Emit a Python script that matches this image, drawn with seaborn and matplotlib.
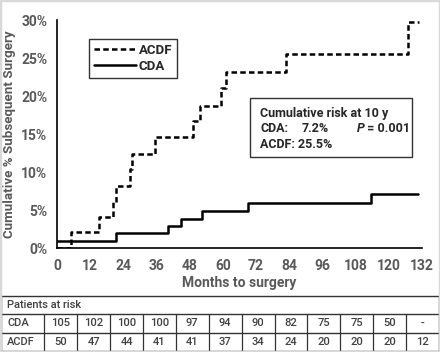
import matplotlib
matplotlib.use("Agg")
import matplotlib.pyplot as plt
import seaborn as sns
import pandas as pd
from matplotlib.patches import Rectangle
from matplotlib.lines import Line2D

# ---- data ----
acdf_months = [0, 5, 15.2, 20.3, 21.5, 26.5, 27.0, 35.6, 49.2, 51.6, 59.3, 61.1, 82.8, 127.0, 131.0]
acdf_pct = [0, 2.1, 4.1, 6.1, 8.2, 10.4, 12.4, 14.6, 16.7, 18.7, 21.0, 23.2, 25.5, 29.7, 29.7]
cda_months = [0, 21.5, 40.2, 45.0, 52.5, 69.0, 113.6, 130.5]
cda_pct = [1.0, 2.0, 2.9, 3.9, 4.9, 5.9, 7.2, 7.2]

x_ticks = [0, 12, 24, 36, 48, 60, 72, 84, 96, 108, 120, 132]
y_ticks = [0, 5, 10, 15, 20, 25, 30]
risk_cda = ["105", "102", "100", "100", "97", "94", "90", "82", "75", "75", "50", "-"]
risk_acdf = ["50", "47", "44", "41", "41", "37", "34", "24", "20", "20", "20", "12"]

sns.set_style("white")
plt.rcParams["font.family"] = ["Roboto", "DejaVu Sans"]

GRAY = "#595959"
FW = "bold"

fig = plt.figure(figsize=(4.4, 3.52), dpi=100)
ax = fig.add_axes([57 / 440, 1 - 248.3 / 352, (422 - 57) / 440, (248.3 - 20) / 352])

df_acdf = pd.DataFrame({"Months": acdf_months, "Pct": acdf_pct})
df_cda = pd.DataFrame({"Months": cda_months, "Pct": cda_pct})
sns.lineplot(data=df_acdf, x="Months", y="Pct", ax=ax, drawstyle="steps-post",
             color="black", lw=1.8, linestyle=(0, (2.2, 1.3)), estimator=None, sort=False)
sns.lineplot(data=df_cda, x="Months", y="Pct", ax=ax, drawstyle="steps-post",
             color="black", lw=1.8, estimator=None, sort=False)

ax.set_xlim(0, 132)
ax.set_ylim(0, 30)
ax.set_xticks(x_ticks)
ax.set_xticklabels([str(t) for t in x_ticks])
ax.set_yticks(y_ticks)
ax.set_yticklabels([f"{t}%" for t in y_ticks])
for s in ["top", "right"]:
    ax.spines[s].set_visible(False)
for s in ["left", "bottom"]:
    ax.spines[s].set_color("black")
    ax.spines[s].set_linewidth(1.2)
ax.tick_params(axis="both", labelsize=10, colors=GRAY, length=4, width=1.1, pad=3)
ax.tick_params(axis="x", direction="inout", length=6, pad=5)
ax.tick_params(axis="y", direction="out", color="black")
ax.tick_params(axis="x", color="black")
for lab in ax.get_xticklabels() + ax.get_yticklabels():
    lab.set_fontweight(FW)
ax.set_xlabel("Months to surgery", fontsize=10, fontweight=FW, color=GRAY, labelpad=2)
ax.set_ylabel("Cumulative % Subsequent Surgery", fontsize=9.6, fontweight=FW, color=GRAY, labelpad=4)

handles = [Line2D([], [], color="black", lw=1.8, linestyle=(0, (2.2, 1.3))),
           Line2D([], [], color="black", lw=1.8)]
leg = ax.legend(handles, ["ACDF", "CDA"], loc="upper left",
                bbox_to_anchor=((89 - 57) / 365, (248.3 - 39) / 228.3),
                frameon=True, fancybox=False, edgecolor="#333333", framealpha=1,
                prop={"weight": FW, "size": 9.5}, handlelength=3.2, handletextpad=0.2,
                borderpad=0.35, labelspacing=0.25, borderaxespad=0)
leg.get_frame().set_linewidth(1.0)

# annotation box
ax.add_patch(Rectangle(((250 - 57) / 365, (248.3 - 157) / 228.3), (412 - 250) / 365, (157 - 97.5) / 228.3,
                       transform=ax.transAxes, facecolor="white", edgecolor="#333333", lw=1.0, zorder=3))
tx = (260 - 57) / 365
kw = dict(transform=ax.transAxes, fontsize=9, fontweight=FW, va="center", zorder=4)
ax.text(tx, (248.3 - 113) / 228.3, "Cumulative risk at 10 y", ha="left", **kw)
ax.text(tx, (248.3 - 128) / 228.3, "CDA:", ha="left", **kw)
ax.text((302 - 57) / 365, (248.3 - 128) / 228.3, "7.2%", ha="left", **kw)
ax.text((357 - 57) / 365, (248.3 - 128) / 228.3, "P", ha="left", fontstyle="italic", **kw)
ax.text((364 - 57) / 365, (248.3 - 128) / 228.3, " = 0.001", ha="left", **kw)
ax.text(tx, (248.3 - 144) / 228.3, "ACDF: 25.5%", ha="left", **kw)

# ---- table (pixel coordinates) ----
tab = fig.add_axes([0, 0, 1, 1], zorder=5)
tab.set_xlim(0, 440)
tab.set_ylim(352, 0)
tab.axis("off")
tab.patch.set_alpha(0)
LC = "#333333"
top, r1, r2, bot = 295.7, 314.3, 332.7, 351.0
left, right = 1.0, 439.0
col0 = 44.3
cw = (right - col0) / 12
for y in [top, r1, r2, bot]:
    tab.plot([left, right], [y, y], color=LC, lw=1.0)
tab.plot([left, left], [top, bot], color=LC, lw=1.0)
tab.plot([right, right], [top, bot], color=LC, lw=1.0)
for k in range(12):
    xv = col0 + cw * k
    tab.plot([xv, xv], [r1, bot], color=LC, lw=0.9)
TC = "#404040"
tkw = dict(fontsize=8, color=TC, fontweight="medium", va="center")
tab.text(7, (top + r1) / 2, "Patients at risk", ha="left", **tkw)
tab.text(7, (r1 + r2) / 2, "CDA", ha="left", **tkw)
tab.text(7, (r2 + bot) / 2, "ACDF", ha="left", **tkw)
for k in range(12):
    xc = col0 + cw * (k + 0.5)
    tab.text(xc, (r1 + r2) / 2, risk_cda[k], ha="center", **tkw)
    tab.text(xc, (r2 + bot) / 2, risk_acdf[k], ha="center", **tkw)

# outer light frame
fig.patches.append(Rectangle((0, 0), 1, 1, transform=fig.transFigure, fill=False,
                             edgecolor="#d9d9d9", lw=2.5, zorder=10))

fig.savefig("out.png", dpi=100, facecolor="white")
